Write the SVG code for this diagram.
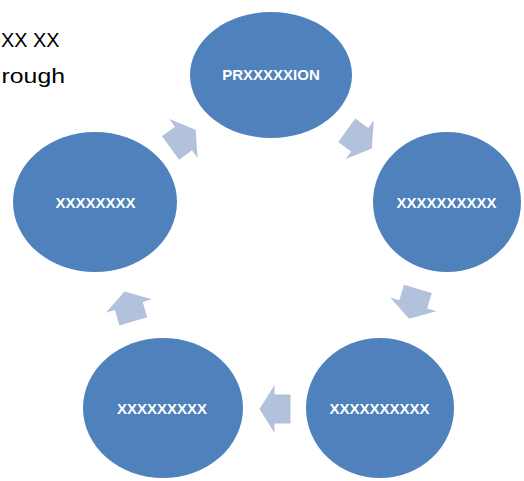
<svg xmlns="http://www.w3.org/2000/svg" width="524" height="481" viewBox="0 0 524 481">
<style>
.node{fill:#4F81BD}
.lbl{fill:#FFFFFF;font-family:"Liberation Sans",Arial,sans-serif;font-weight:bold;font-size:15px;text-anchor:middle}
.arr{fill:#B2C1DC}
.note{fill:#000000;font-family:"Liberation Sans",Arial,sans-serif;font-size:21px}
</style>
<defs>
<path id="ar" d="M-16,-14.5 L0,-14.5 L0,-24 L15,0 L0,24 L0,14.5 L-16,14.5 Z"/>
</defs>
<rect width="524" height="481" fill="#FFFFFF"/>
<g id="note">
<text class="note" x="1" y="47" textLength="58.5" lengthAdjust="spacingAndGlyphs">XX XX</text>
<text class="note" x="1.5" y="83" textLength="63.5" lengthAdjust="spacingAndGlyphs">rough</text>
</g>
<g id="connectors">
<use href="#ar" class="arr" transform="translate(359.7,139.7) rotate(36)"/>
<use href="#ar" class="arr" transform="translate(413.3,304.3) rotate(106.6)"/>
<use href="#ar" class="arr" transform="translate(274.5,409) rotate(180)"/>
<use href="#ar" class="arr" transform="translate(128.8,306) rotate(253.6)"/>
<use href="#ar" class="arr" transform="translate(183.5,138.5) rotate(-36)"/>
</g>
<g id="n1"><ellipse class="node" cx="271" cy="75" rx="81" ry="63"/><text class="lbl" x="271" y="80">PRXXXXXION</text></g>
<g id="n2"><ellipse class="node" cx="447" cy="202" rx="74" ry="70"/><text class="lbl" x="446.5" y="208">XXXXXXXXXX</text></g>
<g id="n3"><ellipse class="node" cx="380" cy="408" rx="74" ry="70"/><text class="lbl" x="379.5" y="414">XXXXXXXXXX</text></g>
<g id="n4"><ellipse class="node" cx="163" cy="408" rx="80" ry="70"/><text class="lbl" x="162" y="414">XXXXXXXXX</text></g>
<g id="n5"><ellipse class="node" cx="95" cy="202" rx="82" ry="70"/><text class="lbl" x="95.5" y="208">XXXXXXXX</text></g>
</svg>
